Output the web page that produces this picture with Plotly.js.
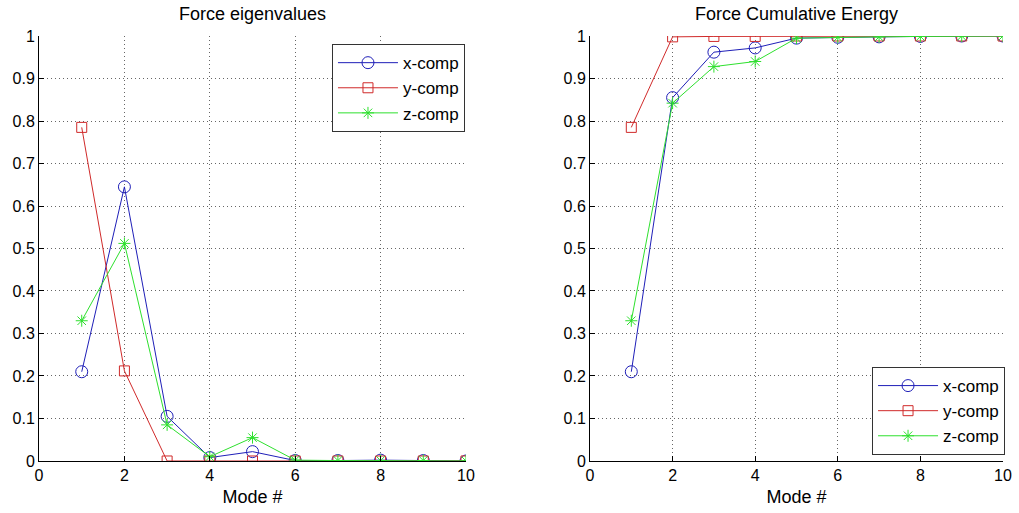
<!DOCTYPE html>
<html><head><meta charset="utf-8">
<script src="https://cdn.plot.ly/plotly-3.0.1.min.js"></script>
<style>html,body{margin:0;padding:0;background:#fff}#c{width:1019px;height:513px}</style>
</head><body><div id="c"></div>
<script>
var modes = [1,2,3,4,5,6,7,8,9,10];
var eigX = [0.21, 0.645, 0.105, 0.008, 0.022, 0.001, 0.001, 0.002, 0.001, 0.0];
var eigY = [0.785, 0.212, 0.0, 0.0, 0.0, 0.0, 0.0, 0.0, 0.0, 0.0];
var eigZ = [0.33, 0.512, 0.085, 0.010, 0.055, 0.002, 0.001, 0.001, 0.001, 0.0];
var cumX = [0.21, 0.855, 0.962, 0.972, 0.995, 0.997, 0.998, 0.999, 1.0, 1.0];
var cumY = [0.785, 0.998, 0.999, 0.999, 1.0, 1.0, 1.0, 1.0, 1.0, 1.0];
var cumZ = [0.33, 0.842, 0.928, 0.940, 0.995, 0.997, 0.998, 0.999, 1.0, 1.0];
var names = ['x-comp','y-comp','z-comp'];
var colors = ['#1f1fb8','#d02a2a','#2ee02e'];
var symbols = ['circle-open','square-open','asterisk-open'];
var sizes = [12, 10, 10];

function tr(y, i, xa, ya, lg){
  return {x: modes, y: y, name: names[i], type:'scatter', mode:'lines+markers',
    xaxis: xa, yaxis: ya, legend: lg,
    line:{color:colors[i], width:1},
    marker:{symbol:symbols[i], size:sizes[i], color:colors[i], line:{color:colors[i], width:1}}};
}
var data = [
  tr(eigX,0,'x','y','legend'), tr(eigY,1,'x','y','legend'), tr(eigZ,2,'x','y','legend'),
  tr(cumX,0,'x2','y2','legend2'), tr(cumY,1,'x2','y2','legend2'), tr(cumZ,2,'x2','y2','legend2')
];
var fam = 'Liberation Sans, Arial, sans-serif';
var tickFont = {family:fam, size:16, color:'#000'};
var labFont = {family:fam, size:18, color:'#000'};
var legFont = {family:fam, size:17, color:'#000'};
function xax(dom, anchor){
  return {domain:dom, anchor:anchor, range:[0,10], dtick:2, tick0:0, showgrid:true,
    gridcolor:'#666', griddash:'1px,3px', gridwidth:1, zeroline:false, showline:true,
    linecolor:'#000', linewidth:1, ticks:'inside', ticklen:5, tickcolor:'#000',
    tickfont:tickFont, title:{text:'Mode #', font:labFont, standoff:7}, fixedrange:true};
}
function yax(anchor){
  return {domain:[0.1014,0.9298], anchor:anchor, range:[0,1], dtick:0.1, tick0:0, showgrid:true,
    gridcolor:'#666', griddash:'1px,3px', gridwidth:1, zeroline:false, showline:true,
    linecolor:'#000', linewidth:1, ticks:'inside', ticklen:5, tickcolor:'#000',
    tickfont:tickFont, fixedrange:true};
}
var legStyle = {bgcolor:'#fff', bordercolor:'#333', borderwidth:1, font:legFont, tracegroupgap:0, itemwidth:60};
var layout = {
  width:1019, height:513, margin:{l:0,r:0,t:0,b:0},
  paper_bgcolor:'#fff', plot_bgcolor:'#fff', font:tickFont, showlegend:true,
  xaxis: xax([0.0383,0.4573],'y'), yaxis: yax('x'),
  xaxis2: xax([0.579,0.9843],'y2'), yaxis2: yax('x2'),
  legend: Object.assign({x:0.4563, y:0.914, xanchor:'right', yanchor:'top'}, legStyle),
  legend2: Object.assign({x:0.9863, y:0.113, xanchor:'right', yanchor:'bottom'}, legStyle),
  annotations:[
    {text:'Force eigenvalues', xref:'paper', yref:'paper', x:0.2478, y:0.972, xanchor:'center', yanchor:'middle', showarrow:false, font:labFont},
    {text:'Force Cumulative Energy', xref:'paper', yref:'paper', x:0.7817, y:0.972, xanchor:'center', yanchor:'middle', showarrow:false, font:labFont}
  ]
};
Plotly.newPlot('c', data, layout, {displayModeBar:false, staticPlot:true});
</script></body></html>
